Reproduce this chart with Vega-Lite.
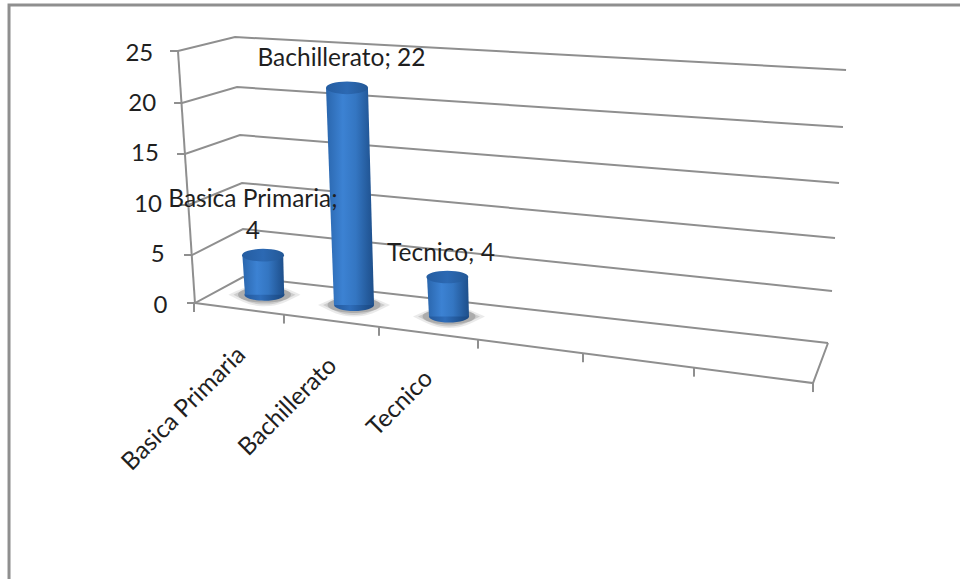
{
  "$schema": "https://vega.github.io/schema/vega-lite/v6.json",
  "width": 960,
  "height": 579,
  "padding": 0,
  "autosize": "none",
  "background": "white",
  "config": {"view": {"stroke": null}, "text": {"font": "Lato"}},
  "datasets": {
    "linework": [
      {"path": "frame", "step": 1, "across": 0.94, "level": -27.96},
      {"path": "frame", "step": 2, "across": 0.94, "level": 30.19},
      {"path": "frame", "step": 3, "across": 100, "level": 30.19},
      {"path": "grid25", "step": 1, "across": 17.71, "level": 25.53},
      {"path": "grid25", "step": 2, "across": 18.54, "level": 25.53},
      {"path": "grid25", "step": 3, "across": 24.48, "level": 26.95},
      {"path": "grid25", "step": 4, "across": 88.13, "level": 23.61},
      {"path": "grid20", "step": 1, "across": 18.13, "level": 20.26},
      {"path": "grid20", "step": 2, "across": 18.96, "level": 20.26},
      {"path": "grid20", "step": 3, "across": 24.69, "level": 21.88},
      {"path": "grid20", "step": 4, "across": 87.81, "level": 17.83},
      {"path": "grid15", "step": 1, "across": 18.44, "level": 15.1},
      {"path": "grid15", "step": 2, "across": 19.27, "level": 15.1},
      {"path": "grid15", "step": 3, "across": 25.0, "level": 17.02},
      {"path": "grid15", "step": 4, "across": 87.4, "level": 12.16},
      {"path": "grid10", "step": 1, "across": 18.8, "level": 9.93},
      {"path": "grid10", "step": 2, "across": 19.64, "level": 9.93},
      {"path": "grid10", "step": 3, "across": 25.21, "level": 12.16},
      {"path": "grid10", "step": 4, "across": 86.98, "level": 6.59},
      {"path": "grid5", "step": 1, "across": 19.17, "level": 4.86},
      {"path": "grid5", "step": 2, "across": 20.0, "level": 4.86},
      {"path": "grid5", "step": 3, "across": 25.31, "level": 7.5},
      {"path": "grid5", "step": 4, "across": 86.67, "level": 1.22},
      {"path": "grid0", "step": 1, "across": 19.48, "level": 0},
      {"path": "grid0", "step": 2, "across": 20.31, "level": 0},
      {"path": "grid0", "step": 3, "across": 25.31, "level": 2.63},
      {"path": "grid0", "step": 4, "across": 86.25, "level": -4.05},
      {"path": "wall", "step": 1, "across": 18.54, "level": 25.53},
      {"path": "wall", "step": 2, "across": 20.31, "level": 0},
      {"path": "floor", "step": 1, "across": 20.31, "level": 0},
      {"path": "floor", "step": 2, "across": 84.69, "level": -8.11},
      {"path": "floor", "step": 3, "across": 86.25, "level": -4.05},
      {"path": "tick0", "step": 1, "across": 20.21, "level": 0},
      {"path": "tick0", "step": 2, "across": 20.21, "level": -0.91},
      {"path": "tick1", "step": 1, "across": 29.58, "level": -1.17},
      {"path": "tick1", "step": 2, "across": 29.58, "level": -2.08},
      {"path": "tick2", "step": 1, "across": 39.48, "level": -2.41},
      {"path": "tick2", "step": 2, "across": 39.48, "level": -3.32},
      {"path": "tick3", "step": 1, "across": 49.79, "level": -3.71},
      {"path": "tick3", "step": 2, "across": 49.79, "level": -4.62},
      {"path": "tick4", "step": 1, "across": 60.73, "level": -5.11},
      {"path": "tick4", "step": 2, "across": 60.73, "level": -6.0},
      {"path": "tick5", "step": 1, "across": 72.29, "level": -6.55},
      {"path": "tick5", "step": 2, "across": 72.29, "level": -7.46},
      {"path": "tick6", "step": 1, "across": 84.69, "level": -8.11},
      {"path": "tick6", "step": 2, "across": 84.69, "level": -9.02}
    ],
    "cylinders": [
      {"category": "Basica Primaria", "end": "base", "level": 0, "across": 27.55, "left": 25.52, "right": 29.6},
      {"category": "Basica Primaria", "end": "top", "level": 4, "across": 27.4, "left": 25.25, "right": 29.5},
      {"category": "Bachillerato", "end": "base", "level": 0, "across": 36.88, "left": 34.79, "right": 38.96},
      {"category": "Bachillerato", "end": "top", "level": 22, "across": 36.15, "left": 33.96, "right": 38.33},
      {"category": "Tecnico", "end": "base", "level": 0, "across": 46.77, "left": 44.69, "right": 48.85},
      {"category": "Tecnico", "end": "top", "level": 4, "across": 46.6, "left": 44.48, "right": 48.75}
    ],
    "dataLabels": [
      {"label": "Basica Primaria;\n4", "across": 26.35, "level": 10.44},
      {"label": "Bachillerato; 22", "across": 35.57, "level": 24.72},
      {"label": "Tecnico; 4", "across": 45.94, "level": 4.96}
    ],
    "categoryLabels": [
      {"category": "Basica Primaria", "across": 25.2, "level": -4.9},
      {"category": "Bachillerato", "across": 34.7, "level": -6.0},
      {"category": "Tecnico", "across": 44.7, "level": -7.3}
    ]
  },
  "resolve": {"scale": {"y": "independent"}, "axis": {"y": "independent"}},
  "encoding": {
    "x": {"field": "across", "type": "quantitative", "axis": null, "scale": {"domain": [0, 100], "nice": false, "zero": false}},
    "y": {"field": "level", "type": "quantitative", "axis": null, "scale": {"domain": [-27.96, 30.7], "nice": false, "zero": false}}
  },
  "layer": [
    {
      "data": {"name": "linework"},
      "mark": {"type": "line", "color": "#8f8f8f", "interpolate": "linear"},
      "encoding": {
        "y": {
          "field": "level",
          "type": "quantitative",
          "scale": {"domain": [-27.96, 30.7], "nice": false, "zero": false},
          "axis": {
            "values": [0, 5, 10, 15, 20, 25],
            "orient": "left",
            "offset": -170,
            "title": null,
            "domain": false,
            "ticks": false,
            "grid": false,
            "labelFont": "Lato",
            "labelFontSize": 24,
            "labelColor": "#1f1f1f",
            "labelOverlap": false,
            "labelBound": false,
            "labelFlush": false,
            "labelPadding": {"expr": "3 + datum.value * 0.57"},
            "labelOffset": {"expr": "2 - datum.value * 0.21"}
          }
        },
        "detail": {"field": "path"},
        "order": {"field": "step", "type": "quantitative"},
        "strokeWidth": {"condition": {"test": "datum.path === 'frame'", "value": 3}, "value": 2}
      }
    },
    {
      "data": {"name": "cylinders"},
      "transform": [{"filter": "datum.category === 'Basica Primaria'"}],
      "encoding": {"y": {"field": "level", "type": "quantitative", "axis": null, "scale": {"domain": [-28.81, 29.85], "nice": false, "zero": false}}},
      "layer": [
        {"transform": [{"filter": "datum.end === 'base'"}], "mark": {"type": "point", "filled": true, "color": "#6a6a6a", "opacity": 0.14, "size": 5184, "shape": "M-1,0C-0.6,-0.18 -0.4,-0.28 0,-0.28C0.4,-0.28 0.6,-0.18 1,0C0.6,0.2 0.4,0.32 0,0.32C-0.4,0.32 -0.6,0.2 -1,0Z"}},
        {"transform": [{"filter": "datum.end === 'base'"}], "mark": {"type": "point", "filled": true, "color": "#5a5a5a", "opacity": 0.2, "size": 3844, "shape": "M-1,0C-0.6,-0.18 -0.4,-0.28 0,-0.28C0.4,-0.28 0.6,-0.18 1,0C0.6,0.2 0.4,0.32 0,0.32C-0.4,0.32 -0.6,0.2 -1,0Z"}},
        {"transform": [{"filter": "datum.end === 'base'"}], "mark": {"type": "point", "filled": true, "color": "#4a4a4a", "opacity": 0.25, "size": 2800, "shape": "M-1,0A1,0.3 0 1,1 1,0A1,0.3 0 1,1 -1,0Z"}},
        {"transform": [{"filter": "datum.end === 'base'"}], "mark": {"type": "point", "filled": true, "opacity": 1, "size": 1600, "shape": "M-1,0A1,0.3 0 1,1 1,0A1,0.3 0 1,1 -1,0Z",
          "fill": {"gradient": "linear", "x1": 0, "y1": 0, "x2": 1, "y2": 0, "stops": [{"offset": 0, "color": "#24599c"}, {"offset": 0.4, "color": "#2e6dba"}, {"offset": 0.8, "color": "#1f5290"}, {"offset": 1, "color": "#1a4780"}]}}},
        {"mark": {"type": "area", "orient": "horizontal",
          "fill": {"gradient": "linear", "x1": 0, "y1": 0, "x2": 1, "y2": 0, "stops": [{"offset": 0, "color": "#2a66ad"}, {"offset": 0.35, "color": "#3c82d3"}, {"offset": 0.62, "color": "#3476c2"}, {"offset": 0.88, "color": "#245a9b"}, {"offset": 1, "color": "#1e4f8a"}]}},
          "encoding": {"x": {"field": "left", "type": "quantitative"}, "x2": {"field": "right"}}},
        {"transform": [{"filter": "datum.end === 'top'"}], "mark": {"type": "point", "filled": true, "opacity": 1, "size": 1764, "shape": "M-1,0A1,0.3 0 1,1 1,0A1,0.3 0 1,1 -1,0Z",
          "fill": {"gradient": "linear", "x1": 0, "y1": 0, "x2": 1, "y2": 0, "stops": [{"offset": 0, "color": "#255da1"}, {"offset": 0.5, "color": "#2c69b3"}, {"offset": 1, "color": "#235896"}]}}}
      ]
    },
    {
      "data": {"name": "cylinders"},
      "transform": [{"filter": "datum.category === 'Bachillerato'"}],
      "encoding": {"y": {"field": "level", "type": "quantitative", "axis": null, "scale": {"domain": [-27.76, 30.9], "nice": false, "zero": false}}},
      "layer": [
        {"transform": [{"filter": "datum.end === 'base'"}], "mark": {"type": "point", "filled": true, "color": "#6a6a6a", "opacity": 0.14, "size": 5184, "shape": "M-1,0C-0.6,-0.18 -0.4,-0.28 0,-0.28C0.4,-0.28 0.6,-0.18 1,0C0.6,0.2 0.4,0.32 0,0.32C-0.4,0.32 -0.6,0.2 -1,0Z"}},
        {"transform": [{"filter": "datum.end === 'base'"}], "mark": {"type": "point", "filled": true, "color": "#5a5a5a", "opacity": 0.2, "size": 3844, "shape": "M-1,0C-0.6,-0.18 -0.4,-0.28 0,-0.28C0.4,-0.28 0.6,-0.18 1,0C0.6,0.2 0.4,0.32 0,0.32C-0.4,0.32 -0.6,0.2 -1,0Z"}},
        {"transform": [{"filter": "datum.end === 'base'"}], "mark": {"type": "point", "filled": true, "color": "#4a4a4a", "opacity": 0.25, "size": 2800, "shape": "M-1,0A1,0.3 0 1,1 1,0A1,0.3 0 1,1 -1,0Z"}},
        {"transform": [{"filter": "datum.end === 'base'"}], "mark": {"type": "point", "filled": true, "opacity": 1, "size": 1600, "shape": "M-1,0A1,0.3 0 1,1 1,0A1,0.3 0 1,1 -1,0Z",
          "fill": {"gradient": "linear", "x1": 0, "y1": 0, "x2": 1, "y2": 0, "stops": [{"offset": 0, "color": "#24599c"}, {"offset": 0.4, "color": "#2e6dba"}, {"offset": 0.8, "color": "#1f5290"}, {"offset": 1, "color": "#1a4780"}]}}},
        {"mark": {"type": "area", "orient": "horizontal",
          "fill": {"gradient": "linear", "x1": 0, "y1": 0, "x2": 1, "y2": 0, "stops": [{"offset": 0, "color": "#2a66ad"}, {"offset": 0.35, "color": "#3c82d3"}, {"offset": 0.62, "color": "#3476c2"}, {"offset": 0.88, "color": "#245a9b"}, {"offset": 1, "color": "#1e4f8a"}]}},
          "encoding": {"x": {"field": "left", "type": "quantitative"}, "x2": {"field": "right"}}},
        {"transform": [{"filter": "datum.end === 'top'"}], "mark": {"type": "point", "filled": true, "opacity": 1, "size": 1764, "shape": "M-1,0A1,0.3 0 1,1 1,0A1,0.3 0 1,1 -1,0Z",
          "fill": {"gradient": "linear", "x1": 0, "y1": 0, "x2": 1, "y2": 0, "stops": [{"offset": 0, "color": "#255da1"}, {"offset": 0.5, "color": "#2c69b3"}, {"offset": 1, "color": "#235896"}]}}}
      ]
    },
    {
      "data": {"name": "cylinders"},
      "transform": [{"filter": "datum.category === 'Tecnico'"}],
      "encoding": {"y": {"field": "level", "type": "quantitative", "axis": null, "scale": {"domain": [-26.59, 32.07], "nice": false, "zero": false}}},
      "layer": [
        {"transform": [{"filter": "datum.end === 'base'"}], "mark": {"type": "point", "filled": true, "color": "#6a6a6a", "opacity": 0.14, "size": 5184, "shape": "M-1,0C-0.6,-0.18 -0.4,-0.28 0,-0.28C0.4,-0.28 0.6,-0.18 1,0C0.6,0.2 0.4,0.32 0,0.32C-0.4,0.32 -0.6,0.2 -1,0Z"}},
        {"transform": [{"filter": "datum.end === 'base'"}], "mark": {"type": "point", "filled": true, "color": "#5a5a5a", "opacity": 0.2, "size": 3844, "shape": "M-1,0C-0.6,-0.18 -0.4,-0.28 0,-0.28C0.4,-0.28 0.6,-0.18 1,0C0.6,0.2 0.4,0.32 0,0.32C-0.4,0.32 -0.6,0.2 -1,0Z"}},
        {"transform": [{"filter": "datum.end === 'base'"}], "mark": {"type": "point", "filled": true, "color": "#4a4a4a", "opacity": 0.25, "size": 2800, "shape": "M-1,0A1,0.3 0 1,1 1,0A1,0.3 0 1,1 -1,0Z"}},
        {"transform": [{"filter": "datum.end === 'base'"}], "mark": {"type": "point", "filled": true, "opacity": 1, "size": 1600, "shape": "M-1,0A1,0.3 0 1,1 1,0A1,0.3 0 1,1 -1,0Z",
          "fill": {"gradient": "linear", "x1": 0, "y1": 0, "x2": 1, "y2": 0, "stops": [{"offset": 0, "color": "#24599c"}, {"offset": 0.4, "color": "#2e6dba"}, {"offset": 0.8, "color": "#1f5290"}, {"offset": 1, "color": "#1a4780"}]}}},
        {"mark": {"type": "area", "orient": "horizontal",
          "fill": {"gradient": "linear", "x1": 0, "y1": 0, "x2": 1, "y2": 0, "stops": [{"offset": 0, "color": "#2a66ad"}, {"offset": 0.35, "color": "#3c82d3"}, {"offset": 0.62, "color": "#3476c2"}, {"offset": 0.88, "color": "#245a9b"}, {"offset": 1, "color": "#1e4f8a"}]}},
          "encoding": {"x": {"field": "left", "type": "quantitative"}, "x2": {"field": "right"}}},
        {"transform": [{"filter": "datum.end === 'top'"}], "mark": {"type": "point", "filled": true, "opacity": 1, "size": 1764, "shape": "M-1,0A1,0.3 0 1,1 1,0A1,0.3 0 1,1 -1,0Z",
          "fill": {"gradient": "linear", "x1": 0, "y1": 0, "x2": 1, "y2": 0, "stops": [{"offset": 0, "color": "#255da1"}, {"offset": 0.5, "color": "#2c69b3"}, {"offset": 1, "color": "#235896"}]}}}
      ]
    },
    {
      "data": {"name": "dataLabels"},
      "mark": {"type": "text", "fontSize": 24.5, "color": "#1f1f1f", "align": "center", "baseline": "middle", "lineBreak": "\n", "lineHeight": 32},
      "encoding": {"text": {"field": "label"}}
    },
    {
      "data": {"name": "categoryLabels"},
      "mark": {"type": "text", "fontSize": 24.5, "color": "#1f1f1f", "align": "right", "baseline": "middle", "angle": 315},
      "encoding": {"text": {"field": "category"}}
    }
  ]
}
